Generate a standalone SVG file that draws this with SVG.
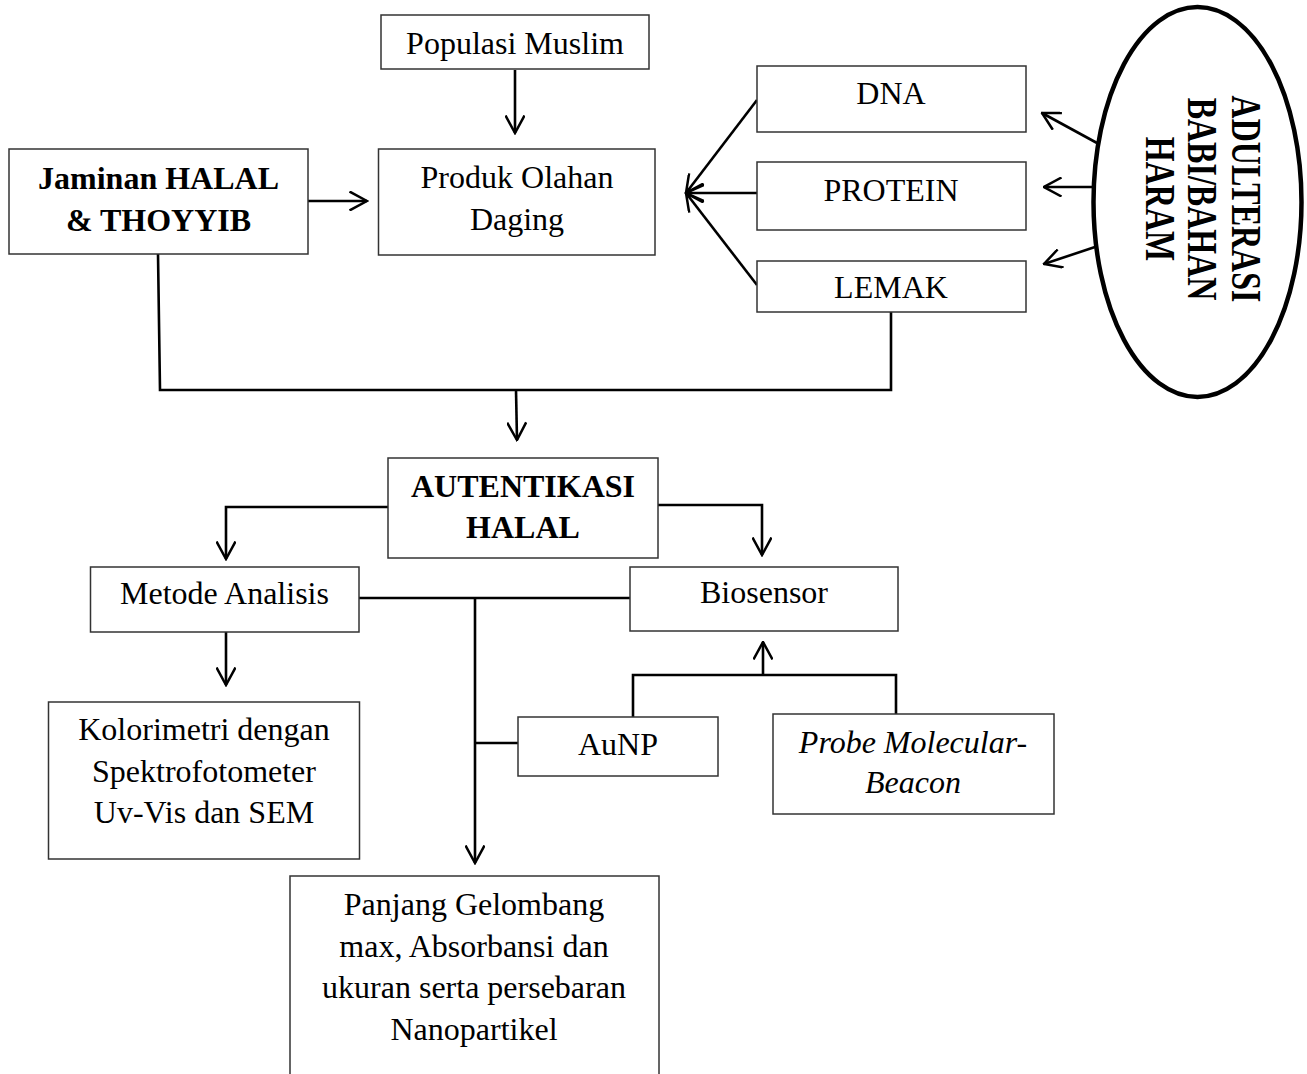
<svg xmlns="http://www.w3.org/2000/svg" width="1307" height="1074" viewBox="0 0 1307 1074">
<defs>
<style>
.box{fill:#fff;stroke:#333;stroke-width:1.5}
.t{font-family:"Liberation Serif","Times New Roman",serif;font-size:32px;fill:#000;text-anchor:middle}
.b{font-weight:bold}
.i{font-style:italic}
.c{fill:none;stroke:#000;stroke-width:2.6}
.a{marker-end:url(#arr)}
</style>
<marker id="arr" viewBox="0 0 20 20" markerWidth="20" markerHeight="20" markerUnits="userSpaceOnUse" refX="18.5" refY="10" orient="auto">
<path d="M1,0.5 L18.5,10 L1,19.5" fill="none" stroke="#000" stroke-width="2.5"/>
</marker>
</defs>
<rect width="1307" height="1074" fill="#fff"/>

<g id="connectors">
<line class="c a" x1="515" y1="70" x2="515" y2="133"/>
<line class="c a" x1="308" y1="201" x2="367" y2="201"/>
<line class="c a" x1="757" y1="100" x2="686" y2="193"/>
<line class="c a" x1="757" y1="193" x2="686" y2="193"/>
<line class="c a" x1="757" y1="285" x2="686" y2="193"/>
<line class="c a" x1="1097" y1="143" x2="1042" y2="113"/>
<line class="c a" x1="1097" y1="187" x2="1044" y2="187"/>
<line class="c a" x1="1095" y1="247" x2="1044" y2="264"/>
<polyline class="c" points="158,254 160,390 891,390 891,312"/>
<line class="c a" x1="516" y1="390" x2="517" y2="440"/>
<polyline class="c a" points="388,507 226,507 226,559"/>
<polyline class="c a" points="658,505 762,505 762,555"/>
<line class="c a" x1="226" y1="632" x2="226" y2="685"/>
<line class="c" x1="359" y1="598" x2="630" y2="598"/>
<line class="c a" x1="475" y1="598" x2="475" y2="863"/>
<line class="c" x1="475" y1="743" x2="518" y2="743"/>
<polyline class="c" points="633,717 633,675 896,675 896,714"/>
<line class="c a" x1="763" y1="675" x2="763" y2="642"/>
</g>

<g id="populasi"><rect class="box" x="381" y="15" width="268" height="54"/><text class="t" x="515" y="54">Populasi Muslim</text></g>
<g id="jaminan"><rect class="box" x="9" y="149" width="299" height="105"/><text class="t b" x="158.5" y="189">Jaminan HALAL</text><text class="t b" x="158.5" y="231">&amp; THOYYIB</text></g>
<g id="produk"><rect class="box" x="378.5" y="149" width="276.5" height="106"/><text class="t" x="517" y="188">Produk Olahan</text><text class="t" x="517" y="230">Daging</text></g>
<g id="dna"><rect class="box" x="757" y="66" width="269" height="66"/><text class="t" x="891" y="104">DNA</text></g>
<g id="protein"><rect class="box" x="757" y="162" width="269" height="68"/><text class="t" x="891" y="201">PROTEIN</text></g>
<g id="lemak"><rect class="box" x="757" y="261" width="269" height="51"/><text class="t" x="891" y="298">LEMAK</text></g>
<g id="adulterasi">
<ellipse cx="1197.5" cy="202" rx="104" ry="195" fill="#fff" stroke="#000" stroke-width="4.5"/>
<text class="t b" transform="translate(1232,199) rotate(90) scale(1,1.3)">ADULTERASI</text>
<text class="t b" transform="translate(1188,199) rotate(90) scale(1,1.3)">BABI/BAHAN</text>
<text class="t b" transform="translate(1146,199) rotate(90) scale(1,1.3)">HARAM</text>
</g>
<g id="autentikasi"><rect class="box" x="388" y="458" width="270" height="100"/><text class="t b" x="523" y="497">AUTENTIKASI</text><text class="t b" x="523" y="538">HALAL</text></g>
<g id="metode"><rect class="box" x="90.5" y="567" width="268.5" height="65"/><text class="t" x="224.5" y="604">Metode Analisis</text></g>
<g id="biosensor"><rect class="box" x="630" y="567" width="268" height="64"/><text class="t" x="764" y="603">Biosensor</text></g>
<g id="kolorimetri"><rect class="box" x="48.5" y="702" width="311" height="157"/><text class="t" x="204" y="740">Kolorimetri dengan</text><text class="t" x="204" y="782">Spektrofotometer</text><text class="t" x="204" y="823">Uv-Vis dan SEM</text></g>
<g id="aunp"><rect class="box" x="518" y="717" width="200" height="59"/><text class="t" x="618" y="755">AuNP</text></g>
<g id="probe"><rect class="box" x="773" y="714" width="281" height="100"/><text class="t i" x="913" y="753">Probe Molecular-</text><text class="t i" x="913" y="793">Beacon</text></g>
<g id="panjang"><rect class="box" x="290" y="876" width="369" height="220"/><text class="t" x="474" y="915">Panjang Gelombang</text><text class="t" x="474" y="957">max, Absorbansi dan</text><text class="t" x="474" y="998">ukuran serta persebaran</text><text class="t" x="474" y="1040">Nanopartikel</text></g>
</svg>
